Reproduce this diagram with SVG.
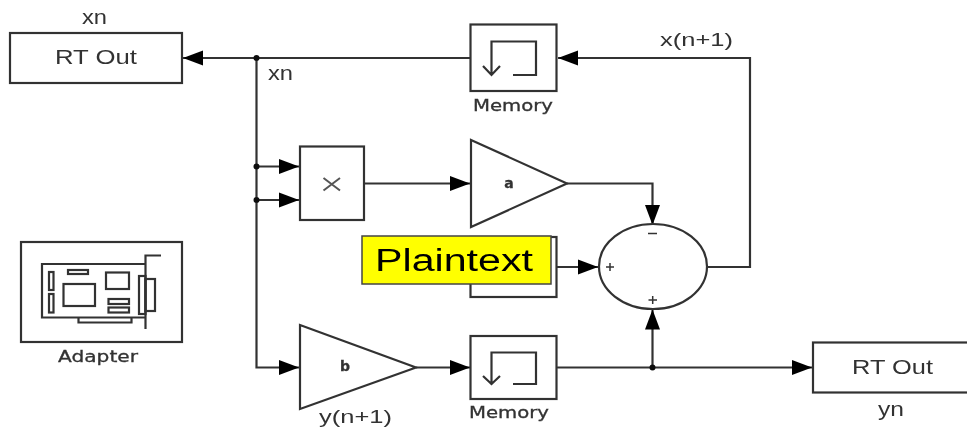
<svg xmlns="http://www.w3.org/2000/svg" width="967" height="427" viewBox="0 0 967 427">
<style>
.b{fill:#fff;stroke:#333;stroke-width:2.200}
.i{fill:none;stroke:#333;stroke-width:2.200}
.c{fill:none;stroke:#333;stroke-width:2.200}
.t{font-family:"Liberation Sans",Arial,sans-serif;fill:#333}
.s{font-family:"DejaVu Sans",sans-serif;fill:#333;stroke:#333;stroke-width:0.300}
.d{fill:#111}
</style>
<defs>
<filter id="soft" x="0" y="0" width="967" height="427" filterUnits="userSpaceOnUse"><feGaussianBlur stdDeviation="0.5"/></filter>
<marker id="ah" markerUnits="userSpaceOnUse" markerWidth="20" markerHeight="16" refX="20" refY="8" orient="auto"><path d="M0 0.5L20 8L0 15.5Z" fill="#000"/></marker>
</defs>
<rect width="967" height="427" fill="#fff"/>
<g filter="url(#soft)">
<g id="connectors">
<path class="c" d="M471 58H183" marker-end="url(#ah)"/>
<path class="c" d="M707 267H750V58H558" marker-end="url(#ah)"/>
<path class="c" d="M256.500 58V367.500H299" marker-end="url(#ah)"/>
<path class="c" d="M256.500 166.500H299" marker-end="url(#ah)"/>
<path class="c" d="M256.500 200H299" marker-end="url(#ah)"/>
<path class="c" d="M364 183.500H470" marker-end="url(#ah)"/>
<path class="c" d="M567 183.500H652.500V225" marker-end="url(#ah)"/>
<path class="c" d="M557 267H598" marker-end="url(#ah)"/>
<path class="c" d="M416 367.500H470" marker-end="url(#ah)"/>
<path class="c" d="M557 367.500H812" marker-end="url(#ah)"/>
<path class="c" d="M652.500 367.500V309.500" marker-end="url(#ah)"/>
<circle class="d" cx="256.500" cy="58" r="3"/>
<circle class="d" cx="256.500" cy="166.500" r="3"/>
<circle class="d" cx="256.500" cy="200" r="3"/>
<circle class="d" cx="652.500" cy="367.500" r="3"/>
<text class="t" x="268" y="79.500" font-size="20" textLength="25" lengthAdjust="spacingAndGlyphs">xn</text>
<text class="t" x="660" y="46" font-size="19" textLength="73" lengthAdjust="spacingAndGlyphs">x(n+1)</text>
<text class="t" x="319" y="423" font-size="19" textLength="73" lengthAdjust="spacingAndGlyphs">y(n+1)</text>
</g>
<g id="rtout-x">
<rect class="b" x="10" y="33" width="172" height="50"/>
<text class="t" x="55" y="64" font-size="21" textLength="82" lengthAdjust="spacingAndGlyphs">RT Out</text>
<text class="t" x="82" y="24" font-size="20" textLength="25" lengthAdjust="spacingAndGlyphs">xn</text>
</g>
<g id="memory-x">
<rect class="b" x="470.500" y="24.500" width="86" height="66.500"/>
<path class="i" d="M491.500 75V41.500H536V75H513M483 66L491.500 75L500 66"/>
<text class="s" x="473" y="111" font-size="15" textLength="80" lengthAdjust="spacingAndGlyphs">Memory</text>
</g>
<g id="product">
<rect class="b" x="300" y="146.500" width="64" height="73.500"/>
<path d="M323.500 178L340 190.500M340 178L323.500 190.500" fill="none" stroke="#555" stroke-width="2"/>
</g>
<g id="gain-a">
<path class="b" d="M471 140L567 183.500L471 227Z"/>
<text class="s" x="509" y="188" font-size="14" font-weight="bold" text-anchor="middle">a</text>
</g>
<g id="hidden-constant">
<rect class="b" x="470.500" y="237" width="86" height="60"/>
</g>
<g id="plaintext">
<rect x="362" y="236" width="189" height="48" fill="#ffff00" stroke="#444" stroke-width="1.500"/>
<text x="375" y="270.500" font-family="Liberation Sans, Arial, sans-serif" font-size="31" fill="#000" textLength="158" lengthAdjust="spacingAndGlyphs">Plaintext</text>
</g>
<g id="sum">
<ellipse class="b" cx="653" cy="266.500" rx="54" ry="42.500"/>
<path d="M606 267H614M610 263V271M648 233.500H657M648.500 300H657M652.700 296V304" fill="none" stroke="#333" stroke-width="1.500"/>
</g>
<g id="gain-b">
<path class="b" d="M300 325L416 367.500L300 409Z"/>
<text class="s" x="345" y="371" font-size="14" font-weight="bold" text-anchor="middle">b</text>
</g>
<g id="memory-y">
<rect class="b" x="470.500" y="336" width="86" height="63"/>
<path class="i" d="M491.500 384V352.500H536V384H513M483 376L491.500 384L500 376"/>
<text class="s" x="469" y="418" font-size="15" textLength="80" lengthAdjust="spacingAndGlyphs">Memory</text>
</g>
<g id="rtout-y">
<rect class="b" x="813" y="342.500" width="160" height="50"/>
<text class="t" x="852" y="374" font-size="21" textLength="81" lengthAdjust="spacingAndGlyphs">RT Out</text>
<text class="t" x="878" y="416" font-size="20" textLength="26" lengthAdjust="spacingAndGlyphs">yn</text>
</g>
<g id="adapter">
<rect class="b" x="21" y="242" width="161" height="100"/>
<path class="i" d="M145.500 264H42V317.500H145.500M145.500 329V255.500H161M78.500 317.500V322.500H131.500V317.500"/>
<rect class="i" x="49" y="272" width="4.500" height="18"/>
<rect class="i" x="49" y="294" width="4.500" height="18.500"/>
<rect class="i" x="68" y="270" width="20" height="4"/>
<rect class="i" x="63.500" y="284" width="31.500" height="22"/>
<rect class="i" x="106" y="272.500" width="23" height="16.500"/>
<rect class="i" x="108.500" y="299" width="20.500" height="5"/>
<rect class="i" x="108.500" y="307.500" width="20.500" height="5"/>
<rect class="i" x="139" y="276" width="6.500" height="38"/>
<rect class="i" x="145.500" y="279" width="9.500" height="32"/>
<text class="s" x="58" y="361.500" font-size="15" textLength="80" lengthAdjust="spacingAndGlyphs">Adapter</text>
</g>
</g>
</svg>
